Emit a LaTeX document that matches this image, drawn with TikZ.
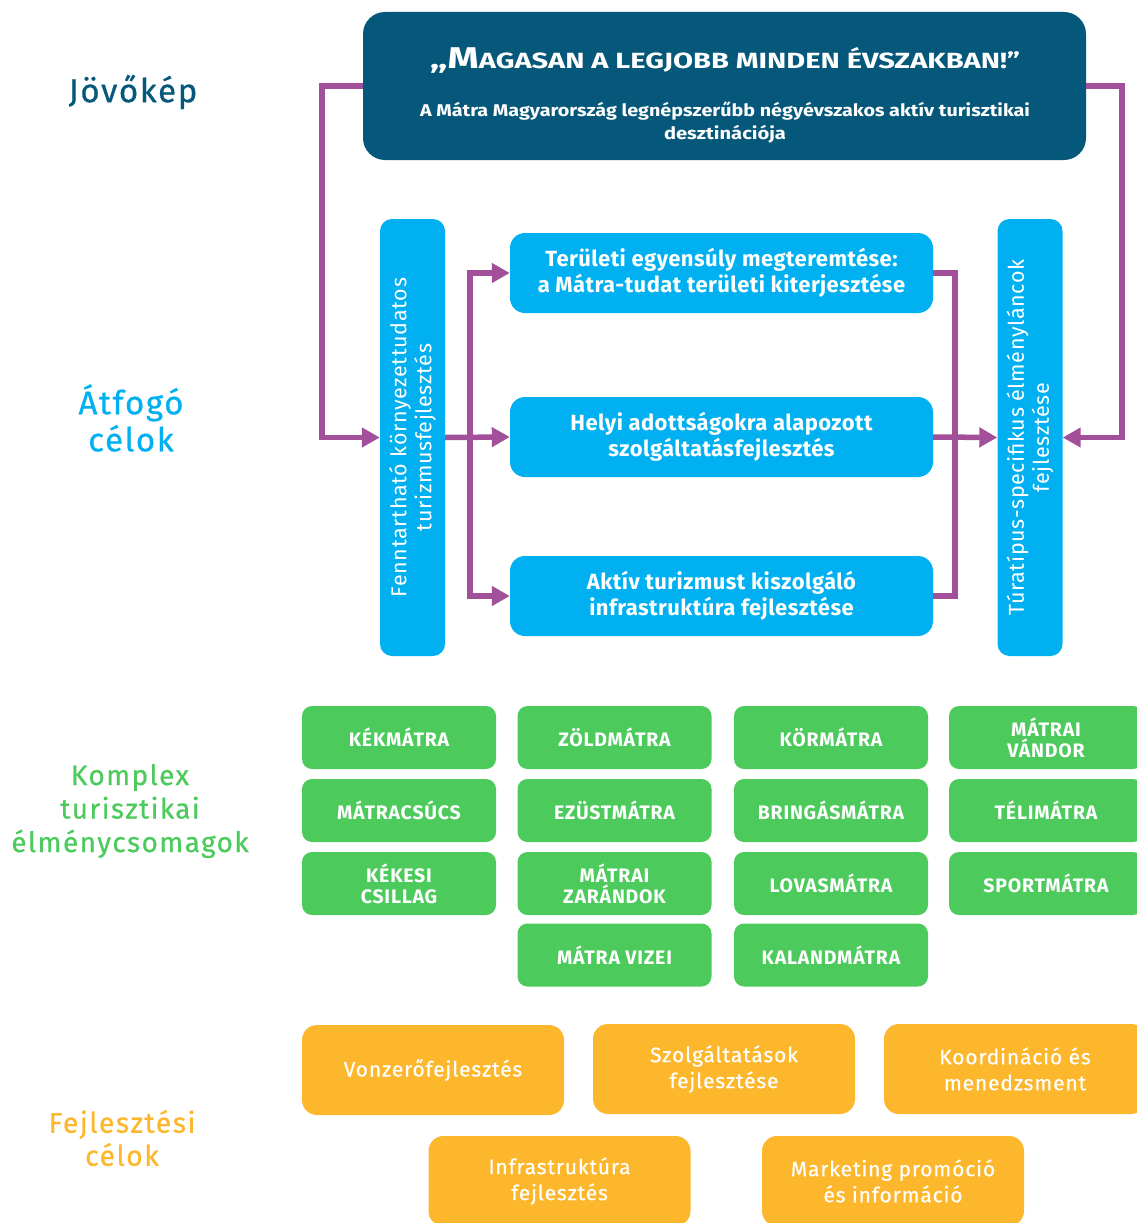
\documentclass[tikz,border=0pt]{standalone}
\usepackage{fontspec}
\usepackage{graphicx}
\setmainfont{Fira Sans}
\newfontfamily\spacedfont[LetterSpace=3]{Fira Sans}
\newfontfamily\greenfont[LetterSpace=4]{Fira Sans}
\newfontfamily\orangefont[LetterSpace=4,FakeBold=0.4]{Fira Sans}
\newfontfamily\midfont[LetterSpace=2]{Fira Sans}
\newfontfamily\widefont[LetterSpace=5,FakeBold=0.6]{Fira Sans}
\usetikzlibrary{arrows.meta}
\definecolor{darkblue}{HTML}{05587A}
\definecolor{lightblue}{HTML}{00B0F0}
\definecolor{purp}{HTML}{A2509A}
\definecolor{grn}{HTML}{4CCB5C}
\definecolor{orng}{HTML}{FDB72D}
\tikzset{
  base/.style={inner sep=0pt, align=center, text=white},
  visionbox/.style={base, fill=darkblue, rounded corners=22pt, minimum width=723pt, minimum height=148pt},
  midbox/.style={base, fill=lightblue, rounded corners=15pt, minimum width=423pt, minimum height=80pt,
     font=\midfont\fontsize{22}{26}\selectfont\bfseries},
  vertbox/.style={base, fill=lightblue, rounded corners=12pt, minimum width=65pt, minimum height=437pt},
  verttext/.style={base, rotate=90, font=\spacedfont\fontsize{21.5}{25}\selectfont},
  greenbox/.style={base, fill=grn, rounded corners=10pt, minimum width=194pt, minimum height=63pt,
     font=\greenfont\fontsize{19.5}{21}\selectfont\bfseries},
  orangebox/.style={base, fill=orng, rounded corners=15pt, minimum width=262pt, minimum height=90pt,
     font=\orangefont\fontsize{21}{26}\selectfont},
  sidelabel/.style={inner sep=0pt, align=center},
  conn/.style={draw=purp, line width=5.5pt, line join=miter},
  arr/.style={conn, -{Triangle[length=18pt,width=19pt]}},
  arrboth/.style={conn, {Triangle[length=18pt,width=19pt]}-{Triangle[length=18pt,width=19pt]}},
}
\begin{document}
\begin{tikzpicture}[x=1pt,y=-1pt]
\useasboundingbox (0,0) rectangle (1137,1223);
\clip (0,0) rectangle (1137,1223);

% side labels
\node[sidelabel, text=darkblue, font=\widefont\fontsize{33}{37}\selectfont] (lab1) at (133,92) {Jövőkép};
\node[sidelabel, text=lightblue, font=\widefont\fontsize{33}{37}\selectfont] (lab2) at (131,418) {Átfogó\\célok};
\node[sidelabel, text=grn, font=\widefont\fontsize{28}{33.5}\selectfont] (lab3) at (130,811) {Komplex\\turisztikai\\élménycsomagok};
\node[sidelabel, text=orng, font=\widefont\fontsize{28.5}{33}\selectfont] (lab4) at (122,1138) {Fejlesztési\\célok};

% vision box
\node[visionbox] (vision) at (724.5,86) {};
\node[base] (vtitle) at (725,60) {\resizebox{590pt}{\height}{\bfseries\fontsize{30}{30}\selectfont „M\fontsize{22}{22}\selectfont AGASAN A LEGJOBB MINDEN ÉVSZAKBAN!”}};
\node[base] (vsub1) at (725,111) {\resizebox{610pt}{\height}{\bfseries\fontsize{17}{17}\selectfont A Mátra Magyarország legnépszerűbb négyévszakos aktív turisztikai}};
\node[base] (vsub2) at (725,134) {\resizebox{122pt}{\height}{\bfseries\fontsize{17}{17}\selectfont desztinációja}};

% vertical boxes
\node[vertbox] (lvbox) at (412.5,437.5) {};
\node[verttext] (lvtext) at (lvbox.center) {Fenntartható környezettudatos\\turizmusfejlesztés};
\node[vertbox] (rvbox) at (1030,437.5) {};
\node[verttext] (rvtext) at (rvbox.center) {Túratípus-specifikus élményláncok\\fejlesztése};

% middle boxes
\node[midbox] (m1) at (721.5,273) {Területi egyensúly megteremtése:\\a Mátra-tudat területi kiterjesztése};
\node[midbox] (m2) at (721.5,437) {Helyi adottságokra alapozott\\szolgáltatásfejlesztés};
\node[midbox] (m3) at (721.5,596) {Aktív turizmust kiszolgáló\\infrastruktúra fejlesztése};

% connectors
\coordinate (L1) at (322,86);
\coordinate (R1) at (1122,86);
\coordinate (hl1) at (470,273);
\coordinate (hl3) at (470,596);
\coordinate (hr1) at (955,273);
\coordinate (hr3) at (955,596);
\draw[arr] (vision.west) -- (L1) |- (lvbox.west);
\draw[arr] (vision.east) -- (R1) |- (rvbox.east);
\draw[arrboth] (m1.west) -- (hl1) -- (hl3) -- (m3.west);
\draw[arr] (lvbox.east) -- (m2.west);
\draw[conn] (m1.east) -- (hr1) -- (hr3) -- (m3.east);
\draw[arr] (m2.east) -- (rvbox.west);

% green boxes
\node[greenbox] (g11) at (399,737.5) {KÉKMÁTRA};
\node[greenbox] (g12) at (614.5,737.5) {ZÖLDMÁTRA};
\node[greenbox] (g13) at (831,737.5) {KÖRMÁTRA};
\node[greenbox] (g14) at (1046,737.5) {MÁTRAI\\VÁNDOR};
\node[greenbox] (g21) at (399,810.5) {MÁTRACSÚCS};
\node[greenbox] (g22) at (614.5,810.5) {EZÜSTMÁTRA};
\node[greenbox] (g23) at (831,810.5) {BRINGÁSMÁTRA};
\node[greenbox] (g24) at (1046,810.5) {TÉLIMÁTRA};
\node[greenbox] (g31) at (399,883.5) {KÉKESI\\CSILLAG};
\node[greenbox] (g32) at (614.5,883.5) {MÁTRAI\\ZARÁNDOK};
\node[greenbox] (g33) at (831,883.5) {LOVASMÁTRA};
\node[greenbox] (g34) at (1046,883.5) {SPORTMÁTRA};
\node[greenbox] (g42) at (614.5,955) {MÁTRA VIZEI};
\node[greenbox] (g43) at (831,955) {KALANDMÁTRA};

% orange boxes
\node[orangebox] (o1) at (433,1070) {Vonzerőfejlesztés};
\node[orangebox] (o2) at (724,1069) {Szolgáltatások\\fejlesztése};
\node[orangebox] (o3) at (1015,1069) {Koordináció és\\menedzsment};
\node[orangebox] (o4) at (559.5,1181) {Infrastruktúra\\fejlesztés};
\node[orangebox] (o5) at (893,1181) {Marketing promóció\\és információ};
\end{tikzpicture}
\end{document}
